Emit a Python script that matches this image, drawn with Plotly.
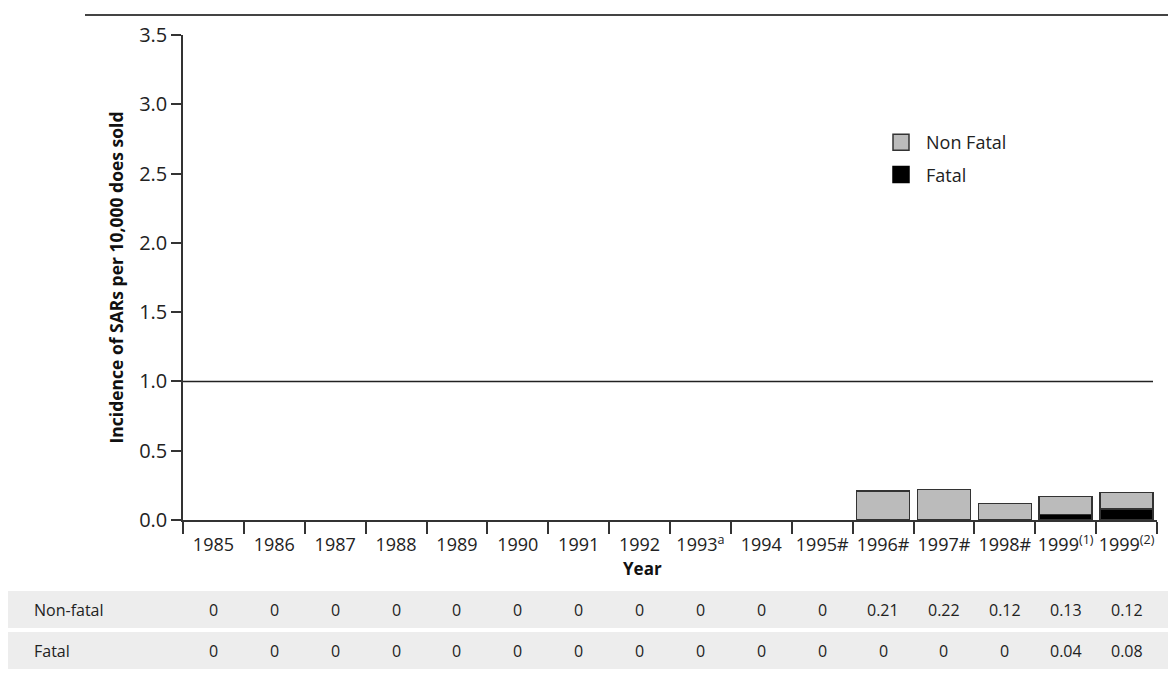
import plotly.graph_objects as go

categories = ["1985", "1986", "1987", "1988", "1989", "1990", "1991", "1992",
              "1993<sup>a</sup>", "1994", "1995#", "1996#", "1997#", "1998#",
              "1999<sup>(1)</sup>", "1999<sup>(2)</sup>"]
non_fatal = [0, 0, 0, 0, 0, 0, 0, 0, 0, 0, 0, 0.21, 0.22, 0.12, 0.13, 0.12]
fatal = [0, 0, 0, 0, 0, 0, 0, 0, 0, 0, 0, 0, 0, 0, 0.04, 0.08]
table_rows = ["Non-fatal", "Fatal"]
y_ticks = [0, 0.5, 1.0, 1.5, 2.0, 2.5, 3.0, 3.5]
reference_level = 1.0

FONT = "Open Sans, Noto Sans, DejaVu Sans, sans-serif"
NARROW = "Liberation Sans Narrow, Open Sans, sans-serif"
GREY = "#bbbbbb"
OUTLINE = "#333333"

def outline_widths(vals):
    return [1.5 if v > 0 else 0 for v in vals]

fig = go.Figure()
fig.add_trace(go.Bar(x=categories, y=fatal, name="Fatal",
                     marker=dict(color="black", line=dict(color=OUTLINE, width=outline_widths(fatal))), showlegend=False))
fig.add_trace(go.Bar(x=categories, y=non_fatal, name="Non Fatal",
                     marker=dict(color=GREY, line=dict(color=OUTLINE, width=outline_widths(non_fatal))), showlegend=False))
# legend proxies
fig.add_trace(go.Scatter(x=[None], y=[None], mode="markers", name="Non Fatal", legendgroup="a",
                         marker=dict(symbol="square", size=16, color=GREY, line=dict(color=OUTLINE, width=1.5))))
fig.add_trace(go.Scatter(x=[None], y=[None], mode="markers", name="Fatal", legendgroup="b",
                         marker=dict(symbol="square", size=16, color="black", line=dict(color="black", width=1.5))))

H = 485.0  # plot height px
W = 974.0  # plot width px

def py(px):
    return (520 - px) / H

def pxx(px):
    return (px - 183) / W

shapes = []
# top rule
shapes.append(dict(type="line", xref="paper", yref="paper", x0=pxx(85), x1=pxx(1168), y0=py(15), y1=py(15),
                   line=dict(color="#444444", width=2)))
# reference line at 1.0
shapes.append(dict(type="line", xref="paper", yref="y", x0=0, x1=pxx(1153), y0=reference_level, y1=reference_level,
                   line=dict(color="#222222", width=1.5)))
# table bands
bands = [(591, 628), (632, 669)]
for (t, b) in bands:
    shapes.append(dict(type="rect", xref="paper", yref="paper", x0=pxx(8), x1=pxx(1168), y0=py(b), y1=py(t),
                       fillcolor="#ededed", line=dict(width=0), layer="below"))

annotations = []
annotations.append(dict(text="<b>Incidence of SARs per 10,000 does sold</b>", xref="paper", yref="paper",
                        x=pxx(115), y=0.5, textangle=-90, showarrow=False, xanchor="center", yanchor="middle",
                        font=dict(family=FONT, size=17.5, color="#111")))
annotations.append(dict(text="<b>Year</b>", xref="paper", yref="paper", x=pxx(642), y=py(568),
                        showarrow=False, xanchor="center", yanchor="middle",
                        font=dict(family=FONT, size=17, color="#111")))
for (t, b), label, vals in zip(bands, table_rows, [non_fatal, fatal]):
    yc = py((t + b) / 2)
    annotations.append(dict(text=label, xref="paper", yref="paper", x=pxx(32), y=yc, showarrow=False,
                            xanchor="left", yanchor="middle", font=dict(family=NARROW, size=16, color="#222")))
    for i, v in enumerate(vals):
        annotations.append(dict(text=f"{v:g}", xref="x", yref="paper", x=i, y=yc, showarrow=False,
                                xanchor="center", yanchor="middle", font=dict(family=NARROW, size=16, color="#222")))

fig.update_layout(
    width=1168, height=684,
    margin=dict(l=183, r=11, t=35, b=164, autoexpand=False),
    barmode="stack", bargap=0.13,
    plot_bgcolor="white", paper_bgcolor="white",
    font=dict(family=FONT, color="#222"),
    shapes=shapes, annotations=annotations,
    legend=dict(x=pxx(876), y=py(124), xanchor="left", yanchor="top", font=dict(family=FONT, size=18, color="#222"),
                bgcolor="rgba(0,0,0,0)", itemsizing="trace", traceorder="grouped", tracegroupgap=6, itemwidth=40),
    xaxis=dict(type="category", categoryorder="array", categoryarray=categories, range=[-0.5, 15.5],
               showline=True, linecolor=OUTLINE, linewidth=1.5, ticks="outside", tickson="boundaries",
               ticklen=12, tickwidth=1.5, tickcolor=OUTLINE, showgrid=False, zeroline=False, tickangle=0,
               ticklabelstandoff=8, automargin=False, tickfont=dict(family=FONT, size=18, color="#222")),
    yaxis=dict(range=[0, 3.5], tickvals=y_ticks, tickformat=".1f", showline=True, linecolor=OUTLINE, linewidth=1.5,
               ticks="outside", ticklen=10, tickwidth=1.5, tickcolor=OUTLINE, showgrid=False, zeroline=False,
               automargin=False, tickfont=dict(family=FONT, size=20, color="#222")),
)

fig.write_html("out.html", config={"displayModeBar": False},
               post_script="document.body.style.margin='0';document.body.style.overflow='hidden';")
